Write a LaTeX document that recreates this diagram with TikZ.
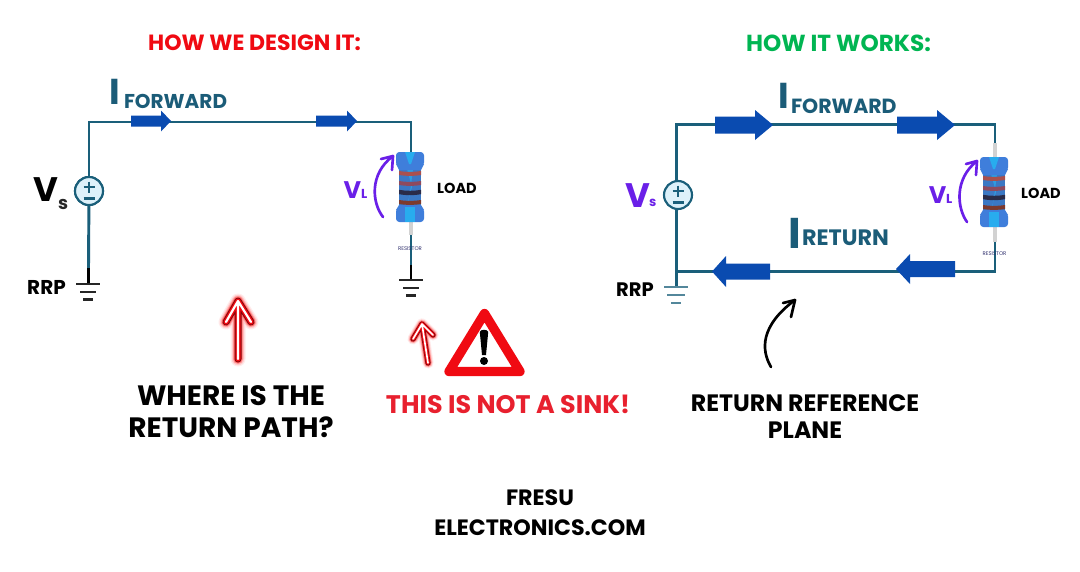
\documentclass[tikz,border=0pt]{standalone}
\usepackage{fontspec}
\setmainfont{Poppins}
\usetikzlibrary{calc}
\definecolor{wire}{HTML}{1A5F7A}
\definecolor{flow}{HTML}{0A4BB0}
\definecolor{vio}{HTML}{6A1FE8}
\definecolor{alert}{HTML}{E8202E}
\definecolor{head}{HTML}{F00A12}
\definecolor{okgreen}{HTML}{00B552}
\definecolor{labelblue}{HTML}{1B5C78}
\definecolor{capblue}{HTML}{3F7EDB}
\definecolor{capcyan}{HTML}{28ACEE}
\definecolor{bodyblue}{HTML}{3B78C4}
\definecolor{srcfill}{HTML}{DDF1FA}
\newcommand{\pxs}[1]{\fontsize{\dimexpr #1pt*3/4\relax}{\dimexpr #1pt\relax}\selectfont\bfseries}
\tikzset{
  x=0.75pt,y=-0.75pt,
  wireline/.style={draw=wire,line width=2.2pt},
  gnd/.style={line width=1.9pt},
  lbl/.style={anchor=base,inner sep=0pt,outer sep=0pt,align=center},
  src/.style={circle,draw=wire,fill=srcfill,line width=1.6pt,minimum size=21pt,inner sep=0pt},
  flowarrow/.style={fill=flow,draw=none},
  curvearrow/.style={line width=2pt,line cap=round,line join=round},
}
\newcommand{\blockarrow}[6]{% tailx, tipx, y, halfbody, headlen, halfhead
  \pgfmathsetmacro{\hb}{#1<#2 ? #2-#5 : #2+#5}%
  \fill[flowarrow] (#1,#3-#4) -- (\hb,#3-#4) -- (\hb,#3-#6) -- (#2,#3) -- (\hb,#3+#6) -- (\hb,#3+#4) -- (#1,#3+#4) -- cycle;%
}
\newcommand{\plusminus}[2]{%
  \draw[wire,line width=1.7pt] (#1-5.5,#2-4) -- (#1+5.5,#2-4) (#1,#2-9.5) -- (#1,#2+1.5) (#1-5.5,#2+7.5) -- (#1+5.5,#2+7.5);%
}
\newcommand{\resistorpart}[2]{% centre x, centre y
  \begin{scope}[shift={(#1,#2)}]
    \fill[bodyblue] (-11,-20) rectangle (11,20);
    \fill[capcyan!70!bodyblue] (-3,-18) -- (3,-18) -- (1,-2) -- (-2,18) -- (3,18) -- (-3,18) -- (2,0) -- cycle;
    \foreach \yy/\cc/\ww in {-14/A9504E/4,-4/8E4A5E/4,5/2A2B48/4.4,15/7D3A2E/4}{
      \definecolor{bandc}{HTML}{\cc}
      \fill[bandc] (-11,\yy-\ww*0.5) .. controls (-4,\yy-\ww*0.2) and (4,\yy-\ww*0.2) .. (11,\yy-\ww*0.5) -- (11,\yy+\ww*0.5) .. controls (4,\yy+\ww*0.8) and (-4,\yy+\ww*0.8) .. (-11,\yy+\ww*0.5) -- cycle;
    }
    \fill[capblue,rounded corners=2.5pt] (-14,-35) rectangle (14,-21);
    \fill[capblue] (-14,-23) -- (14,-23) -- (11,-17) -- (-11,-17) -- cycle;
    \fill[capblue,rounded corners=2.5pt] (-14,21) rectangle (14,35);
    \fill[capblue] (-14,23) -- (14,23) -- (11,18) -- (-11,18) -- cycle;
    \fill[capcyan] (-5,20) rectangle (5,35);
    \fill[capcyan] (-5,-35) -- (5,-35) -- (1,-23) -- (-1,-23) -- cycle;
  \end{scope}
}
\newcommand{\glowarrow}[5]{% tip, tail, left wing, right wing, width factor
  \foreach \w/\o/\c in {15/0.08/red,12.5/0.12/red,10.5/0.2/red,8.8/0.35/red,7/1/head!55!black,5/1/head,2.2/1/white}{
    \draw[line width=\w*0.75pt*#5,draw=\c,opacity=\o,line cap=round,line join=round]
      (#2) -- (#1) (#3) -- (#1) -- (#4);
  }
}
\begin{document}
\begin{tikzpicture}
\useasboundingbox (0,0) rectangle (1080,571);
\fill[white] (0,0) rectangle (1080,571);

% ---------- titles
\node[lbl,text=head,font=\pxs{22}] (t1) at (254.5,50) {HOW WE DESIGN IT:};
\node[lbl,text=okgreen,font=\pxs{23.2}] (t2) at (838.5,51) {HOW IT WORKS:};

% ---------- left circuit
\node[src] (vs1) at (89,191) {};
\coordinate (c1) at (89,122);
\coordinate (c2) at (411,122);
\coordinate (r1t) at (411,152);
\coordinate (r1b) at (411,222);
\coordinate (r1g) at (411,265);
\coordinate (g1r) at (411,280);
\coordinate (g1b) at (88.5,268);
\coordinate (g1) at (88.5,283);
\draw[wireline] (vs1) -- (c1) -- (c2) -- (r1t);
\draw[wireline] (vs1) -- (g1b);
\node[src] at (vs1) {};
\plusminus{89}{191}
\draw[black,line width=1.6pt] (g1b) -- (g1);
\draw[draw=gray!35,line width=2.4pt] (r1b) -- ($(r1b)+(0,13)$);
\draw[wireline] ($(r1b)+(0,13)$) -- (r1g);
\draw[black,line width=1.6pt] (r1g) -- (g1r);
\foreach \gx/\gy in {88/284,411/280}{
  \draw[black!85,gnd] (\gx-12,\gy) -- (\gx+12,\gy) (\gx-8,\gy+8) -- (\gx+8,\gy+8) (\gx-5,\gy+15.5) -- (\gx+5,\gy+15.5);
}
\blockarrow{131}{171}{121}{5.5}{10}{10.5}
\blockarrow{316}{357}{121}{5.5}{10}{10.5}
\resistorpart{410}{187}
\node[lbl,text=black!60!blue!60!gray,font=\fontsize{4}{4}\selectfont] (res1) at (410,250) {RESISTOR};

\node[lbl,text=labelblue,font=\pxs{36}] (if1) at (115,104) {I};
\node[lbl,text=labelblue,font=\pxs{20},anchor=base west] (if1b) at (124,108) {FORWARD};
\node[lbl,text=black,font=\pxs{34}] (vs1a) at (46,201) {V};
\node[lbl,text=black!85,font=\pxs{18},anchor=base west] (vs1b) at (58,209) {s};
\node[lbl,text=vio,font=\pxs{24}] (vl1a) at (352.5,198) {V};
\node[lbl,text=vio,font=\pxs{13},anchor=base west] (vl1b) at (361,198) {L};
\node[lbl,text=black,font=\pxs{14.5}] (load1) at (457,193) {LOAD};
\node[lbl,text=black,font=\pxs{20}] (rrp1) at (46.5,294) {RRP};
\draw[vio,curvearrow] (383,217) .. controls (372,203) and (369,174) .. (393,156);
\draw[vio,curvearrow] (381,159) -- (393,156) -- (392,170);

% ---------- warnings
\glowarrow{238,301}{238,359}{226,322}{251,322}{1}
\glowarrow{422,324}{428,363}{413,339}{433,335}{0.75}
\draw[head,fill=white,line width=7pt,line join=round] (484.5,313.5) -- (520,371.5) -- (449,371.5) -- cycle;
\fill[black] (479.8,332) .. controls (480,329) and (488,329) .. (488.2,332) -- (486,355) -- (482,355) -- cycle;
\fill[black] (484,361) circle[radius=4];
\node[lbl,text=black,font=\pxs{28}] (q1) at (231,405) {WHERE IS THE};
\node[lbl,text=black,font=\pxs{28}] (q2) at (231,437) {RETURN PATH?};
\node[lbl,text=alert,font=\pxs{25.4}] (sink) at (508,413) {THIS IS NOT A SINK!};

% ---------- right circuit
\coordinate (d1) at (676.5,124.5);
\coordinate (d2) at (995,124.5);
\coordinate (r2t) at (995,158);
\coordinate (r2b) at (995,226);
\coordinate (d3) at (995,271.5);
\coordinate (d4) at (676.5,271.5);
\coordinate (g2) at (676.5,287);
\draw[wireline] (d4) -- (d1) -- (d2) -- ($(r2t)+(0,-15)$);
\draw[wireline] (d4) -- (g2);
\node[src] (vs2) at (678,195) {};
\plusminus{678}{195}
\draw[draw=gray!35,line width=2.4pt] ($(r2t)+(0,-15)$) -- (r2t);
\draw[draw=gray!35,line width=2.4pt] (r2b) -- ($(r2b)+(0,16)$);
\draw[wireline] ($(r2b)+(0,16)$) -- (d3) -- (d4);
\draw[wire!75,gnd] (664,287) -- (688,287) (667,295) -- (685,295) (671,303) -- (681,303);
\blockarrow{715}{773}{125}{8.5}{18}{15}
\blockarrow{897}{955}{125}{8.5}{18}{15}
\blockarrow{770}{712}{271.5}{8}{14}{15.5}
\blockarrow{955}{896}{269}{8}{14}{15}
\resistorpart{994}{192}
\begin{scope}
\clip (978,240) rectangle (1008,262);
\node[lbl,text=black!60!blue!60!gray,font=\fontsize{4}{4}\selectfont] (res2) at (994.5,255) {RESISTOR};
\end{scope}

\node[lbl,text=labelblue,font=\pxs{36}] (if2) at (784,108) {I};
\node[lbl,text=labelblue,font=\pxs{20.5},anchor=base west] (if2b) at (791,113) {FORWARD};
\node[lbl,text=labelblue,font=\pxs{43}] (ir) at (795,248) {I};
\node[lbl,text=labelblue,font=\pxs{22.3},anchor=base west] (irb) at (802,245) {RETURN};
\node[lbl,text=vio,font=\pxs{34}] (vs2a) at (638,207) {V};
\node[lbl,text=vio,font=\pxs{13},anchor=base west] (vs2b) at (649,206) {s};
\node[lbl,text=vio,font=\pxs{24}] (vl2a) at (937.5,203) {V};
\node[lbl,text=vio,font=\pxs{13},anchor=base west] (vl2b) at (946,203) {L};
\node[lbl,text=black,font=\pxs{14.5}] (load2) at (1041,198) {LOAD};
\node[lbl,text=black,font=\pxs{19.5}] (rrp2) at (635,296) {RRP};
\draw[vio,curvearrow] (967,222) .. controls (957,208) and (954,179) .. (977,161);
\draw[vio,curvearrow] (966,164) -- (977,161) -- (976,175);

\coordinate (ba) at (771,367);
\coordinate (bb) at (795,300);
\draw[black,curvearrow] (ba) .. controls (761,350) and (760,326) .. (bb);
\draw[black,curvearrow] (783,303) -- (795,300) -- (791,317);
\node[lbl,text=black,font=\pxs{23.7}] (p1) at (805,411) {RETURN REFERENCE};
\node[lbl,text=black,font=\pxs{23.7}] (p2) at (805,438) {PLANE};

\node[lbl,text=black,font=\pxs{22.2}] (f1) at (540,505) {FRESU};
\node[lbl,text=black,font=\pxs{22.2}] (f2) at (540,535) {ELECTRONICS.COM};
\end{tikzpicture}
\end{document}
